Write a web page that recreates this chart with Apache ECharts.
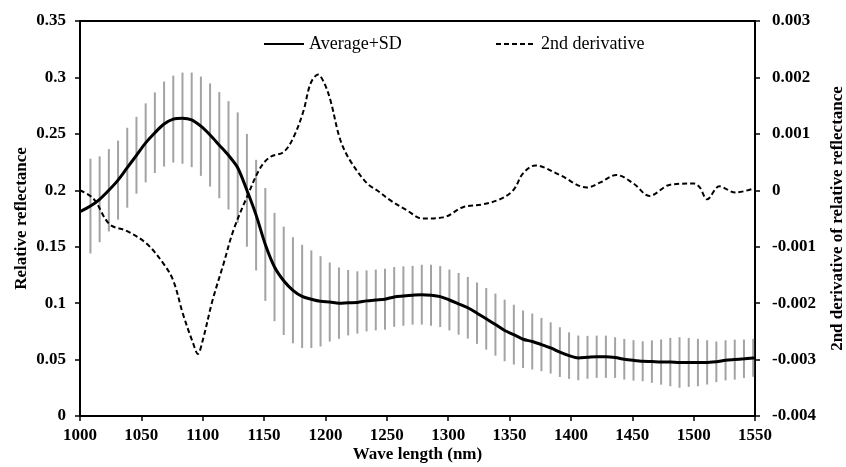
<!DOCTYPE html>
<html>
<head>
<meta charset="utf-8">
<script src="https://cdn.jsdelivr.net/npm/echarts@6/dist/echarts.min.js"></script>
<style>
html,body{margin:0;padding:0;background:#fff;}
#chart{width:846px;height:467px;}
</style>
</head>
<body>
<div id="chart"></div>
<script>
// Wavelengths (nm) of the averaged spectrum (points where SD bars are drawn, plus ends)
const wavelength = [1000,1008.5,1016,1023.5,1031,1038.5,1046,1053.5,1061,1068.5,1076,1083.5,1091,1098.5,1106,1113.5,1121,1128.5,1136,1143.5,1151,1158.5,1166,1173.5,1181,1188.5,1196,1203.5,1211,1218.5,1226,1233.5,1241,1248.5,1256,1263.5,1271,1278.5,1286,1293.5,1301,1308.5,1316,1323.5,1331,1338.5,1346,1353.5,1361,1368.5,1376,1383.5,1391,1398.5,1406,1413.5,1421,1428.5,1436,1443.5,1451,1458.5,1466,1473.5,1481,1488.5,1496,1503.5,1511,1518.5,1526,1533.5,1541,1548.5,1550];
// Average relative reflectance
const meanRefl = [0.181,0.186,0.192,0.200,0.209,0.220,0.231,0.242,0.251,0.2587,0.2631,0.2639,0.2624,0.2568,0.249,0.240,0.231,0.220,0.200,0.178,0.152,0.132,0.1198,0.1114,0.106,0.1035,0.1016,0.101,0.100,0.1004,0.1006,0.102,0.1028,0.1035,0.1055,0.1063,0.107,0.1075,0.107,0.1058,0.1028,0.0994,0.0959,0.0911,0.0861,0.081,0.0758,0.0721,0.068,0.066,0.0633,0.0603,0.0566,0.0535,0.0515,0.052,0.0525,0.0525,0.0518,0.0503,0.0493,0.0485,0.0482,0.0478,0.0478,0.0474,0.0475,0.0474,0.0475,0.048,0.0493,0.05,0.0507,0.0515,0.0515];
// Standard deviation (half length of each bar)
const sdRefl = [null,0.042,0.038,0.0365,0.035,0.0354,0.034,0.035,0.0357,0.0377,0.0385,0.0404,0.0419,0.044,0.0457,0.047,0.048,0.049,0.050,0.049,0.050,0.048,0.048,0.047,0.0457,0.0432,0.040,0.035,0.0316,0.029,0.0276,0.027,0.0269,0.027,0.0265,0.0263,0.026,0.0265,0.027,0.027,0.027,0.0273,0.0273,0.0272,0.0273,0.0275,0.0273,0.0265,0.0255,0.0248,0.0236,0.0227,0.022,0.0206,0.0198,0.019,0.0187,0.0187,0.018,0.018,0.0179,0.0177,0.0188,0.02,0.0214,0.0224,0.0217,0.021,0.0196,0.018,0.0178,0.0177,0.017,0.0168,null];
// Second derivative curve
const derivWl = [1000,1011,1024,1038,1054,1068,1076,1084,1092,1096,1100,1108,1117,1125,1136,1147,1155,1166,1174,1182,1188,1194,1199,1204,1212,1220,1234,1242,1253,1266,1279,1296,1312,1328,1342,1353,1361,1371,1391,1413,1424,1437,1451,1464,1481,1500,1505,1511,1521,1534,1550];
const derivVal = [0.0000,-0.00015,-0.0006,-0.00072,-0.00094,-0.0013,-0.0016,-0.0022,-0.0027,-0.0029,-0.00266,-0.00195,-0.0013,-0.00071,-0.00012,0.0004,0.00059,0.00068,0.00094,0.0014,0.0019,0.00205,0.0019,0.0016,0.0009,0.00053,0.00012,0.0,-0.00018,-0.00035,-0.0005,-0.00048,-0.0003,-0.00025,-0.00016,0.0,0.0003,0.00044,0.00027,0.00005,0.00014,0.00027,0.00012,-0.0001,0.0001,0.00012,0.00005,-0.00016,0.00007,-0.00004,0.00004];
// Axis ticks
const xTicks = {min:1000, max:1550, interval:50};
const yLeftTicks = {min:0, max:0.35, interval:0.05};
const yRightTicks = {min:-0.004, max:0.003, interval:0.001};

const FONT = "'Liberation Serif','Times New Roman',serif";
const meanData = wavelength.map((w,i)=>[w, meanRefl[i]]);
const barData = [];
wavelength.forEach((w,i)=>{ if (sdRefl[i] != null) barData.push([w, meanRefl[i], sdRefl[i]]); });
const derivData = derivWl.map((w,i)=>[w, derivVal[i]]);

const chart = echarts.init(document.getElementById('chart'), null, {renderer:'canvas'});
const axisLabelStyle = {color:'#000', fontFamily:FONT, fontWeight:'bold', fontSize:17};
const nameStyle = {color:'#000', fontFamily:FONT, fontWeight:'bold', fontSize:17};
const legendCommon = {top:30, itemWidth:40, itemHeight:14,
  itemStyle:{color:'rgba(0,0,0,0)', borderWidth:0, opacity:0},
  textStyle:{color:'#000', fontFamily:FONT, fontSize:18}};
chart.setOption({
  animation:false,
  backgroundColor:'#fff',
  grid:{left:80, right:91, top:21, bottom:51, containLabel:false, outerBoundsMode:'none',
        show:true, borderColor:'#000', borderWidth:2, backgroundColor:'transparent'},
  legend:[
    {...legendCommon, data:['Average+SD'], left:258},
    {...legendCommon, data:['2nd derivative'], left:490}
  ],
  xAxis:{
    type:'value', min:xTicks.min, max:xTicks.max, interval:xTicks.interval,
    name:'Wave length (nm)', nameLocation:'middle', nameGap:30, nameMoveOverlap:false, nameTextStyle:nameStyle,
    axisLine:{show:true, onZero:false, lineStyle:{color:'#000', width:2}},
    axisTick:{show:true, inside:false, length:5, lineStyle:{color:'#000', width:1.5}},
    axisLabel:{...axisLabelStyle, margin:11, formatter:v=>String(v)},
    splitLine:{show:false}
  },
  yAxis:[
    {
      type:'value', position:'left', min:yLeftTicks.min, max:yLeftTicks.max, interval:yLeftTicks.interval,
      name:'Relative reflectance', nameLocation:'middle', nameRotate:90, nameGap:50, nameMoveOverlap:false, nameTextStyle:nameStyle,
      axisLine:{show:true, onZero:false, lineStyle:{color:'#000', width:2}},
      axisTick:{show:true, inside:false, length:5, lineStyle:{color:'#000', width:1.5}},
      axisLabel:{...axisLabelStyle, margin:14, formatter:v=>String(parseFloat(v.toFixed(3)))},
      splitLine:{show:false}
    },
    {
      type:'value', position:'right', min:yRightTicks.min, max:yRightTicks.max, interval:yRightTicks.interval,
      name:'2nd derivative of relative reflectance', nameLocation:'middle', nameRotate:90, nameGap:74, nameTextStyle:nameStyle,
      axisLine:{show:true, onZero:false, lineStyle:{color:'#000', width:2}},
      axisTick:{show:true, inside:false, length:5, lineStyle:{color:'#000', width:1.5}},
      axisLabel:{...axisLabelStyle, margin:17, formatter:v=>String(parseFloat(v.toFixed(4)))},
      splitLine:{show:false}
    }
  ],
  series:[
    {
      type:'custom', name:'SD bars', yAxisIndex:0, z:1, silent:true,
      data:barData,
      encode:{x:0, y:1},
      renderItem:function(params, api){
        const x = api.value(0), m = api.value(1), s = api.value(2);
        const p1 = api.coord([x, m + s]);
        const p2 = api.coord([x, m - s]);
        return {type:'line', shape:{x1:p1[0], y1:p1[1], x2:p2[0], y2:p2[1]},
                style:{stroke:'#a3a3a3', lineWidth:2}};
      }
    },
    {
      type:'line', name:'Average+SD', yAxisIndex:0, z:3, data:meanData,
      symbol:'none', smooth:0.3,
      lineStyle:{color:'#000', width:3}, itemStyle:{color:'#000'}
    },
    {
      type:'line', name:'2nd derivative', yAxisIndex:1, z:2, data:derivData,
      symbol:'none', smooth:0.35,
      lineStyle:{color:'#000', width:2, type:[5,3]}, itemStyle:{color:'#000'}
    }
  ]
});
</script>
</body>
</html>
